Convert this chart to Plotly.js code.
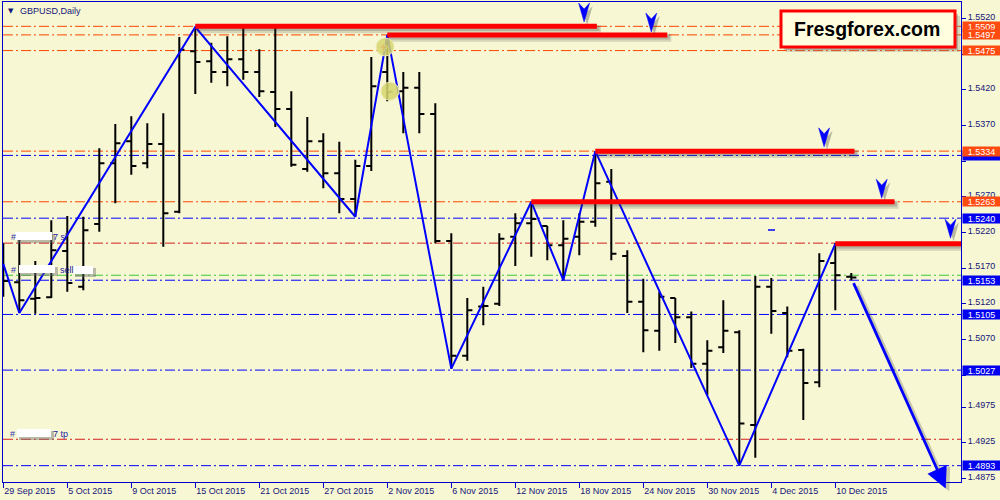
<!DOCTYPE html>
<html><head><meta charset="utf-8">
<script src="https://cdn.plot.ly/plotly-3.0.1.min.js"></script>
<style>html,body{margin:0;padding:0;background:#F7F7D3;}#chart{width:1000px;height:500px;}</style>
</head><body><div id="chart"></div>
<script>
// ---------- data ----------
const dates = ['29 Sep 2015','30 Sep 2015','1 Oct 2015','2 Oct 2015','5 Oct 2015','6 Oct 2015','7 Oct 2015','8 Oct 2015','9 Oct 2015','12 Oct 2015',
 '13 Oct 2015','14 Oct 2015','15 Oct 2015','16 Oct 2015','19 Oct 2015','20 Oct 2015','21 Oct 2015','22 Oct 2015','23 Oct 2015','26 Oct 2015',
 '27 Oct 2015','28 Oct 2015','29 Oct 2015','30 Oct 2015','2 Nov 2015','3 Nov 2015','4 Nov 2015','5 Nov 2015','6 Nov 2015','9 Nov 2015',
 '10 Nov 2015','11 Nov 2015','12 Nov 2015','13 Nov 2015','16 Nov 2015','17 Nov 2015','18 Nov 2015','19 Nov 2015','20 Nov 2015','23 Nov 2015',
 '24 Nov 2015','25 Nov 2015','26 Nov 2015','27 Nov 2015','30 Nov 2015','1 Dec 2015','2 Dec 2015','3 Dec 2015','4 Dec 2015','7 Dec 2015',
 '8 Dec 2015','9 Dec 2015','10 Dec 2015','11 Dec 2015'];
const open  = [1.5175,1.5150,1.5127,1.5129,1.5194,1.5144,1.5232,1.5317,1.5348,1.5317,
 1.5344,1.5249,1.5474,1.5460,1.5445,1.5463,1.5445,1.5417,1.5393,1.5309,
 1.5348,1.5303,1.5267,1.5313,1.5445,1.5418,1.5423,1.5386,1.5208,1.5047,
 1.5116,1.5120,1.5214,1.5233,1.5229,1.5202,1.5214,1.5235,1.5291,1.5187,
 1.5123,1.5082,1.5128,1.5101,1.5036,1.5059,1.5080,1.4950,1.5144,1.5107,
 1.5055,1.5010,1.5177,1.5158];
const high  = [1.5205,1.5212,1.5180,1.5237,1.5243,1.5242,1.5338,1.5372,1.5383,1.5373,
 1.5387,1.5494,1.5508,1.5486,1.5495,1.5507,1.5477,1.5507,1.5418,1.5382,
 1.5359,1.5347,1.5322,1.5466,1.5497,1.5445,1.5445,1.5401,1.5219,1.5128,
 1.5144,1.5219,1.5247,1.5263,1.5229,1.5237,1.5247,1.5334,1.5309,1.5195,
 1.5155,1.5137,1.5128,1.5109,1.5069,1.5125,1.5083,1.5159,1.5156,1.5116,
 1.5057,1.5191,1.5205,1.5163];
const low   = [1.5130,1.5107,1.5106,1.5128,1.5137,1.5139,1.5221,1.5261,1.5301,1.5310,
 1.5200,1.5247,1.5414,1.5430,1.5425,1.5434,1.5410,1.5368,1.5312,1.5305,
 1.5282,1.5247,1.5242,1.5306,1.5404,1.5359,1.5359,1.5205,1.5029,1.5040,
 1.5090,1.5117,1.5173,1.5186,1.5181,1.5153,1.5188,1.5228,1.5181,1.5107,
 1.5052,1.5054,1.5065,1.5030,1.4992,1.5051,1.4894,1.4904,1.5078,1.5045,
 1.4957,1.5003,1.5111,1.5153];
const close = [1.5152,1.5125,1.5128,1.5195,1.5149,1.5223,1.5317,1.5345,1.5313,1.5344,
 1.5247,1.5476,1.5459,1.5445,1.5463,1.5445,1.5418,1.5393,1.5315,1.5348,
 1.5303,1.5267,1.5313,1.5425,1.5417,1.5423,1.5386,1.5208,1.5047,1.5111,
 1.5117,1.5211,1.5233,1.5239,1.5202,1.5211,1.5235,1.5289,1.5190,1.5123,
 1.5083,1.5130,1.5101,1.5036,1.5054,1.5082,1.4952,1.5144,1.5110,1.5054,
 1.5009,1.5180,1.5160,1.5157];
// zigzag pivots (bar index, price)
const zigIdx = [0,1,12,22,24,28,33,35,37,46,52];
const zigVal = [1.5176,1.5107,1.5508,1.5242,1.5497,1.5029,1.5263,1.5153,1.5334,1.4893,1.5204];
// horizontal levels
const orangeLevels = [1.5509,1.5497,1.5475,1.5334,1.5263];
const blueLevels = [1.5328,1.5240,1.5153,1.5105,1.5027,1.4893];
const slLevel = 1.5205, sellLevel = 1.5160, tpLevel = 1.4930;
// resistance segments [startBar, endBar, price]
const resist = [[12,37.1,1.5509],[24,41.5,1.5497],[37,53.2,1.5334],[33,55.7,1.5263],[52,59.9,1.5204]];
// down-arrow markers [bar, price at tip]
const arrowMarks = [[36.3,1.5515],[40.5,1.5501],[51.3,1.5340],[54.9,1.5268],[59.2,1.5212]];
// forecast arrow [fromBar, fromPrice, toBar, toPrice]
const forecast = [53.1,1.5151,58.9,1.4861];
// axis ticks (labels hidden behind price boxes are left blank)
const yTicks = [1.5520,1.5470,1.5420,1.5370,1.5320,1.5270,1.5220,1.5170,1.5120,1.5070,1.5020,1.4975,1.4925,1.4875];
const yTickText = ['1.5520','','1.5420','1.5370','','1.5270','1.5220','1.5170','1.5120','1.5070','','1.4975','1.4925','1.4875'];
const xTicks = [0,4,8,12,16,20,24,28,32,36,40,44,48,52];
const xTickText = ['29 Sep 2015','5 Oct 2015','9 Oct 2015','15 Oct 2015','21 Oct 2015','27 Oct 2015','2 Nov 2015','6 Nov 2015','12 Nov 2015','18 Nov 2015','24 Nov 2015','30 Nov 2015','4 Dec 2015','10 Dec 2015'];

// ---------- drawing ----------
const idx = dates.map((d,i)=>i);
const FONT = 'Liberation Sans, Arial, sans-serif';
const NAVY = '#141478';
const AX = '#0000C8';
const px = x => (x-3)/958, py = y => (482-y)/480;
const DASH = '10px,3px,2px,3px';

const shapes = [];
const annotations = [];
function hline(v,color){ shapes.push({type:'line',xref:'paper',x0:0,x1:1,yref:'y',y0:v,y1:v,layer:'below',line:{color:color,width:1,dash:DASH}}); }
orangeLevels.forEach(v=>hline(v,'#FF4500'));
blueLevels.forEach(v=>hline(v,'#0000FF'));
hline(slLevel,'#D42020'); hline(tpLevel,'#D42020'); hline(sellLevel,'#3CC83C');

resist.forEach(([a,b,v])=>{
  shapes.push({type:'line',xref:'x',yref:'y',x0:a+0.1,x1:b+0.25,y0:v-0.0004,y1:v-0.0004,line:{color:'rgba(60,60,60,0.18)',width:8}});
  shapes.push({type:'line',xref:'x',yref:'y',x0:a+0.1,x1:b+0.15,y0:v-0.0003,y1:v-0.0003,line:{color:'rgba(60,60,60,0.22)',width:5}});
  shapes.push({type:'line',xref:'x',yref:'y',x0:a,x1:b,y0:v,y1:v,line:{color:'#FF0000',width:5}});
});
arrowMarks.forEach(([b,v])=>{
  shapes.push({type:'path',xref:'x',yref:'y',xsizemode:'pixel',ysizemode:'pixel',xanchor:b,yanchor:v,
    path:'M3,-3 L-2.5,16 L3,10 L8.5,16 Z',fillcolor:'rgba(40,40,40,0.3)',line:{width:0}});
  shapes.push({type:'path',xref:'x',yref:'y',xsizemode:'pixel',ysizemode:'pixel',xanchor:b,yanchor:v,
    path:'M0,0 L-5.5,19 L0,13 L5.5,19 Z',fillcolor:'#0000FF',line:{color:'#0000FF',width:0.5}});
});
// yellow trade circles
[[23.86,1.5480],[24.17,1.5418]].forEach(([b,v])=>{
  shapes.push({type:'circle',xref:'x',yref:'y',xsizemode:'pixel',ysizemode:'pixel',xanchor:b,yanchor:v,x0:-9,x1:9,y0:-9,y1:9,
    fillcolor:'rgba(214,214,110,0.85)',line:{color:'rgba(235,235,180,1)',width:1}});
});
// small blue dash
shapes.push({type:'line',xref:'paper',yref:'paper',x0:px(768),x1:px(775),y0:py(230),y1:py(230),line:{color:'#0000FF',width:1.5}});

// order label boxes (left)
function wbox(x0,x1,y0,y1){
  shapes.push({type:'rect',xref:'paper',yref:'paper',x0:px(x0+2),x1:px(x1+3),y0:py(y0+2),y1:py(y1+3),fillcolor:'rgba(110,110,110,0.45)',line:{width:0}});
  shapes.push({type:'rect',xref:'paper',yref:'paper',x0:px(x0),x1:px(x1),y0:py(y0),y1:py(y1),fillcolor:'#FFFFFF',line:{width:0}});
}
function txt(x,y,t,size,color,anchor){ annotations.push({xref:'paper',yref:'paper',x:px(x),y:py(y),xanchor:anchor||'left',yanchor:'middle',text:t,showarrow:false,font:{family:FONT,size:size||9,color:color||NAVY}}); }
txt(9,237,'#',9,'#3030B0'); txt(51,237,'7 sl',9,'#2020A0'); wbox(15,52,232,240);
txt(9,270,'#',9,'#3030B0'); txt(58,270,'sell',9,'#2020A0'); wbox(19,55,265,273); wbox(73,93,266,274);
txt(8,434,'#',9,'#3030B0'); txt(51,434,'7 tp',9,'#2020A0'); wbox(17,51,429,437);

// watermark box
shapes.push({type:'rect',xref:'paper',yref:'paper',x0:px(786),x1:px(960),y0:py(16),y1:py(52),fillcolor:'rgba(120,120,120,0.25)',line:{width:0}});
shapes.push({type:'rect',xref:'paper',yref:'paper',x0:px(784),x1:px(958),y0:py(14),y1:py(50),fillcolor:'rgba(100,100,100,0.35)',line:{width:0}});
shapes.push({type:'rect',xref:'paper',yref:'paper',x0:px(781),x1:px(955),y0:py(11),y1:py(47),fillcolor:'#FFFFE0',line:{color:'#FF0000',width:3}});
annotations.push({xref:'paper',yref:'paper',x:px(867),y:py(29),xanchor:'center',yanchor:'middle',text:'<b>Fresgforex.com</b>',showarrow:false,font:{family:FONT,size:19.5,color:'#000000'}});

// title
annotations.push({xref:'paper',yref:'paper',x:px(6),y:py(11),xanchor:'left',yanchor:'middle',text:'▼',showarrow:false,font:{family:'DejaVu Sans',size:7,color:NAVY}});
txt(18,11,'GBPUSD,Daily',9,NAVY);

// right price boxes
function pbox(v,color,label){ annotations.push({xref:'paper',yref:'y',x:1,xshift:1,xanchor:'left',y:v,yanchor:'middle',text:label,showarrow:false,
  bgcolor:color,width:37,height:9,borderpad:0,font:{family:FONT,size:9,color:'#FFFFFF'}}); }
blueLevels.forEach((v,i)=>pbox(v,'#0000F0', i===0 ? ' ' : v.toFixed(4)));
orangeLevels.forEach(v=>pbox(v,'#FF4A10',v.toFixed(4)));

// forecast arrow (shadow + arrow)
annotations.push({xref:'x',yref:'y',axref:'x',ayref:'y',x:forecast[2]+0.22,y:forecast[3]-0.0004,ax:forecast[0]+0.22,ay:forecast[1]-0.0004,text:'',showarrow:true,
  arrowhead:2,arrowsize:1.5,arrowwidth:3,arrowcolor:'rgba(60,60,60,0.25)'});
annotations.push({xref:'x',yref:'y',axref:'x',ayref:'y',x:forecast[2],y:forecast[3],ax:forecast[0],ay:forecast[1],text:'',showarrow:true,
  arrowhead:2,arrowsize:1.5,arrowwidth:2.8,arrowcolor:'#0000FF'});

const traces = [
  {type:'ohlc',x:idx,open:open,high:high,low:low,close:close,tickwidth:0.32,hoverinfo:'skip',
   increasing:{line:{color:'#000000',width:2}},decreasing:{line:{color:'#000000',width:2}}},
  {type:'scatter',mode:'lines',x:zigIdx,y:zigVal,line:{color:'#0000FF',width:2},hoverinfo:'skip'},
  {type:'scatter',mode:'markers',x:[23.75,24.2],y:[1.5480,1.5418],marker:{symbol:['cross','triangle-down'],size:[6,5],color:['#FF0000','#E08000']},hoverinfo:'skip',cliponaxis:false}
];

const layout = {
  width:1000,height:500,margin:{l:3,r:39,t:2,b:18},
  paper_bgcolor:'#F7F7D3',plot_bgcolor:'#F7F7D3',showlegend:false,hovermode:false,
  xaxis:{range:[-0.019,59.856],tickvals:xTicks,ticktext:xTickText,ticks:'outside',ticklen:5,tickcolor:AX,
    ticklabelposition:'outside right',showgrid:false,zeroline:false,showline:true,mirror:true,linecolor:AX,linewidth:1,
    rangeslider:{visible:false},tickfont:{family:FONT,size:9,color:NAVY},fixedrange:true},
  yaxis:{side:'right',range:[1.48701,1.55431],tickvals:yTicks,ticktext:yTickText,ticks:'outside',ticklen:4,tickcolor:AX,
    ticklabelshift:-2,showgrid:false,zeroline:false,showline:true,mirror:true,linecolor:AX,linewidth:1,
    tickfont:{family:FONT,size:9,color:NAVY},fixedrange:true},
  shapes:shapes,annotations:annotations
};
Plotly.newPlot('chart',traces,layout,{staticPlot:true,displayModeBar:false});
</script></body></html>
